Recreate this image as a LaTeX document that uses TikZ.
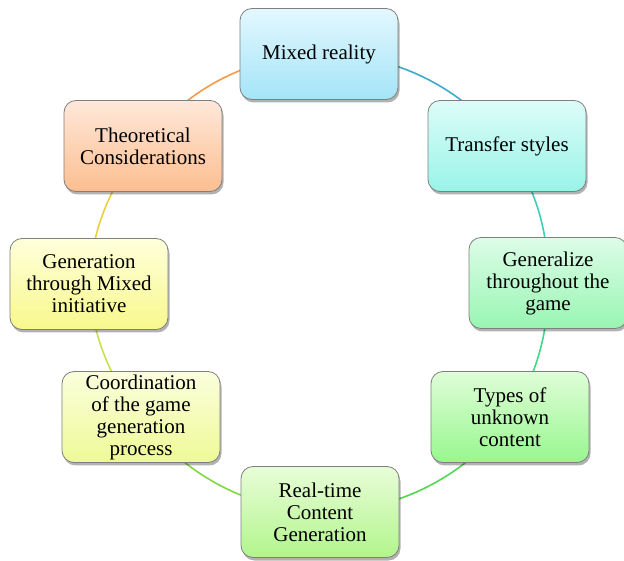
\documentclass[tikz,border=0pt]{standalone}
\usepackage{fontspec}
\setmainfont{Liberation Serif}
\usetikzlibrary{shadows,backgrounds}
\definecolor{bordergray}{HTML}{7F7F7F}
\tikzset{
  cyclebox/.style={rectangle, rounded corners=12pt, draw=bordergray, line width=0.8pt,
    minimum width=158pt, minimum height=91pt, align=center, inner sep=2pt,
    font=\fontsize{21}{22}\selectfont,
    drop shadow={shadow xshift=1.5pt, shadow yshift=-3pt, opacity=0.3, fill=black}},
  cyclearc/.style={line width=1.6pt, looseness=0.9},
}
\begin{document}
\begin{tikzpicture}[x=1pt,y=1pt]
\useasboundingbox (0,0) rectangle (624,560);
\node[cyclebox, top color={rgb,255:red,227;green,248;blue,254}, bottom color={rgb,255:red,164;green,228;blue,248}] (mr) at (319,506) {Mixed reality};
\node[cyclebox, top color={rgb,255:red,221;green,252;blue,248}, bottom color={rgb,255:red,152;green,244;blue,232}] (ts) at (507,414) {Transfer styles};
\node[cyclebox, top color={rgb,255:red,221;green,253;blue,232}, bottom color={rgb,255:red,152;green,245;blue,178}] (gg) at (548,277) {Generalize\\throughout the\\game};
\node[cyclebox, top color={rgb,255:red,223;green,253;blue,216}, bottom color={rgb,255:red,152;green,247;blue,142}] (tu) at (510,143) {Types of\\unknown\\content};
\node[cyclebox, top color={rgb,255:red,232;green,253;blue,216}, bottom color={rgb,255:red,178;green,245;blue,140}] (rt) at (320,48) {Real-time\\Content\\Generation};
\node[cyclebox, top color={rgb,255:red,251;green,254;blue,221}, bottom color={rgb,255:red,238;green,250;blue,150}] (cg) at (141,143) {Coordination\\of the game\\generation\\process};
\node[cyclebox, top color={rgb,255:red,255;green,255;blue,220}, bottom color={rgb,255:red,248;green,248;blue,140}] (gm) at (89,276) {Generation\\through Mixed\\initiative};
\node[cyclebox, top color={rgb,255:red,255;green,232;blue,218}, bottom color={rgb,255:red,252;green,190;blue,144}] (tc) at (143,414) {Theoretical\\Considerations};
\begin{pgfonlayer}{background}
\draw[cyclearc, draw={rgb,255:red,60;green,170;blue,200}] (mr.center) to[bend left=27] (ts.center);
\draw[cyclearc, draw={rgb,255:red,64;green,206;blue,184}] (ts.center) to[bend left=18] (gg.center);
\draw[cyclearc, draw={rgb,255:red,64;green,216;blue,130}] (gg.center) to[bend left=17] (tu.center);
\draw[cyclearc, draw={rgb,255:red,80;green,216;blue,80}] (tu.center) to[bend left=27] (rt.center);
\draw[cyclearc, draw={rgb,255:red,128;green,216;blue,64}] (rt.center) to[bend left=26] (cg.center);
\draw[cyclearc, draw={rgb,255:red,200;green,224;blue,80}] (cg.center) to[bend left=18] (gm.center);
\draw[cyclearc, draw={rgb,255:red,232;green,208;blue,64}] (gm.center) to[bend left=19] (tc.center);
\draw[cyclearc, draw={rgb,255:red,245;green,154;blue,72}] (tc.center) to[bend left=26] (mr.center);
\end{pgfonlayer}
\end{tikzpicture}
\end{document}
